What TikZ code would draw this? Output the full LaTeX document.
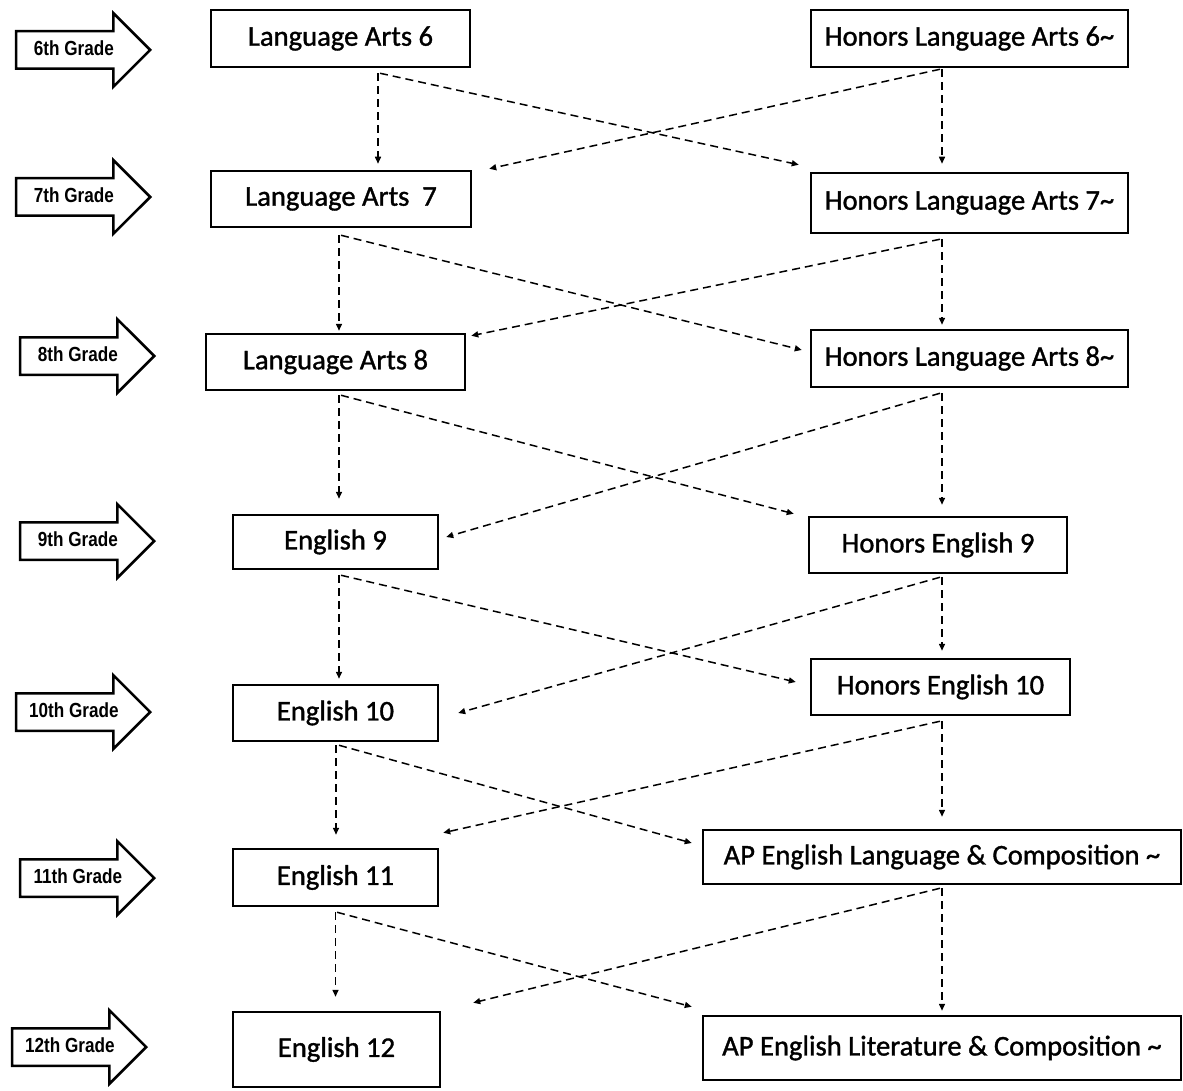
\documentclass[tikz,border=0pt]{standalone}
\usepackage{fontspec}
\setmainfont{Carlito}
\newfontfamily\coursefont{Carlito}[FakeBold=1.2]
\newfontfamily\gradefont[FakeStretch=0.84]{Liberation Sans}
\usetikzlibrary{arrows.meta,calc,shapes.arrows}
\tikzset{
  course/.style={draw=black, line width=1.25pt, fill=white, inner sep=0pt, align=center, font=\coursefont\fontsize{14.3}{17}\selectfont},
  grade/.style={single arrow, draw=black, line width=1.25pt, fill=white, single arrow head extend=9pt, inner xsep=3pt, inner ysep=4.5pt, text height=7pt, text depth=1.5pt, minimum height=67pt, anchor=tip, font=\gradefont\bfseries\fontsize{10.2}{12}\selectfont},
  link/.style={-{Triangle[length=3.5pt,width=3pt]}, line width=0.75pt, dash pattern=on 4pt off 2.5pt}
}
\begin{document}
\begin{tikzpicture}[x=0.5pt, y=-0.5pt]
  \useasboundingbox (0,0) rectangle (1183,1091);

  % grade markers
  \node[grade] (g6) at (152,50) {6th Grade};
  \node[grade] (g7) at (152,197) {7th Grade};
  \node[grade] (g8) at (156,356) {8th Grade};
  \node[grade] (g9) at (156,541) {9th Grade};
  \node[grade] (g10) at (152,712) {10th Grade};
  \node[grade] (g11) at (156,878) {11th Grade};
  \node[grade] (g12) at (148,1047) {12th Grade};

  % courses
  \node[course, minimum width=129.5pt, minimum height=28.5pt] (la6) at (340.5,38.5) {Language Arts 6};
  \node[course, minimum width=158.5pt, minimum height=28.5pt] (hla6) at (969.5,38.5) {Honors Language Arts 6\textasciitilde};
  \node[course, minimum width=130pt, minimum height=28pt] (la7) at (341,199) {Language Arts\ \ 7};
  \node[course, minimum width=158.5pt, minimum height=30pt] (hla7) at (969.5,203) {Honors Language Arts 7\textasciitilde};
  \node[course, minimum width=129.5pt, minimum height=28pt] (la8) at (335.5,362) {Language Arts 8};
  \node[course, minimum width=158.5pt, minimum height=28.5pt] (hla8) at (969.5,358.5) {Honors Language Arts 8\textasciitilde};
  \node[course, minimum width=102.5pt, minimum height=27pt] (e9) at (335.5,542) {English 9};
  \node[course, minimum width=129pt, minimum height=28pt] (he9) at (938,545) {Honors English 9};
  \node[course, minimum width=102.5pt, minimum height=28pt] (e10) at (335.5,713) {English 10};
  \node[course, minimum width=129.5pt, minimum height=28pt] (he10) at (940.5,687) {Honors English 10};
  \node[course, minimum width=102.5pt, minimum height=28.5pt] (e11) at (335.5,877.5) {English 11};
  \node[course, minimum width=239pt, minimum height=27pt] (aplang) at (942,857) {AP English Language \& Composition \textasciitilde};
  \node[course, minimum width=103.5pt, minimum height=37.5pt] (e12) at (336.5,1049.5) {English 12};
  \node[course, minimum width=239pt, minimum height=32pt] (aplit) at (942,1048) {AP English Literature \& Composition \textasciitilde};

  % 6 -> 7
  \draw[link] ($(la6.south)+(37.5,5)$) -- ($(la7.north)+(37,-6)$);
  \draw[link] ($(la6.south)+(39.5,5)$) -- ($(hla7.north west)+(-11,-7)$);
  \draw[link] ($(hla6.south)+(-27.5,1)$) -- ($(hla7.north)+(-27.5,-8)$);
  \draw[link] ($(hla6.south)+(-29.5,1)$) -- ($(la7.north east)+(17,-1)$);

  % 7 -> 8
  \draw[link] ($(la7.south)+(-2,7)$) -- ($(la8.north)+(3.5,-2)$);
  \draw[link] ($(la7.south)+(0,7)$) -- ($(hla8.west)+(-8,-8.5)$);
  \draw[link] ($(hla7.south)+(-27.5,5)$) -- ($(hla8.north)+(-27.5,-4)$);
  \draw[link] ($(hla7.south)+(-29.5,5)$) -- ($(la8.north east)+(5,3)$);

  % 8 -> 9
  \draw[link] ($(la8.south)+(3.5,4)$) -- ($(e9.north)+(3.5,-15)$);
  \draw[link] ($(la8.south)+(5.5,4)$) -- ($(he9.north west)+(-14,-2)$);
  \draw[link] ($(hla8.south)+(-27.5,5)$) -- ($(he9.north)+(4,-11)$);
  \draw[link] ($(hla8.south)+(-29.5,5)$) -- ($(e9.east)+(7,-5)$);

  % 9 -> 10
  \draw[link] ($(e9.south)+(3.5,5)$) -- ($(e10.north)+(3.5,-5)$);
  \draw[link] ($(e9.south)+(5.5,5)$) -- ($(he10.west)+(-14,-5)$);
  \draw[link] ($(he9.south)+(4,3)$) -- ($(he10.north)+(1.5,-7)$);
  \draw[link] ($(he9.south)+(2,3)$) -- ($(e10.east)+(19,0)$);

  % 10 -> 11
  \draw[link] ($(e10.south)+(0.5,3)$) -- ($(e11.north)+(0.5,-13)$);
  \draw[link] ($(e10.south)+(3.5,3)$) -- ($(aplang.west)+(-10,-14)$);
  \draw[link] ($(he10.south)+(1.5,5)$) -- ($(aplang.north)+(0,-12)$);
  \draw[link] ($(he10.south)+(-0.5,5)$) -- ($(e11.north east)+(4,-15)$);

  % 11 -> 12
  \draw[link] ($(e11.south)+(0,5)$) -- ($(e12.north)+(-1,-14)$);
  \draw[link] ($(e11.south)+(1.5,5)$) -- ($(aplit.north west)+(-10,-8)$);
  \draw[link] ($(aplang.south)+(0,3)$) -- ($(aplit.north)+(0,-4)$);
  \draw[link] ($(aplang.south)+(-2,3)$) -- ($(e12.north east)+(32,-8)$);
\end{tikzpicture}
\end{document}
